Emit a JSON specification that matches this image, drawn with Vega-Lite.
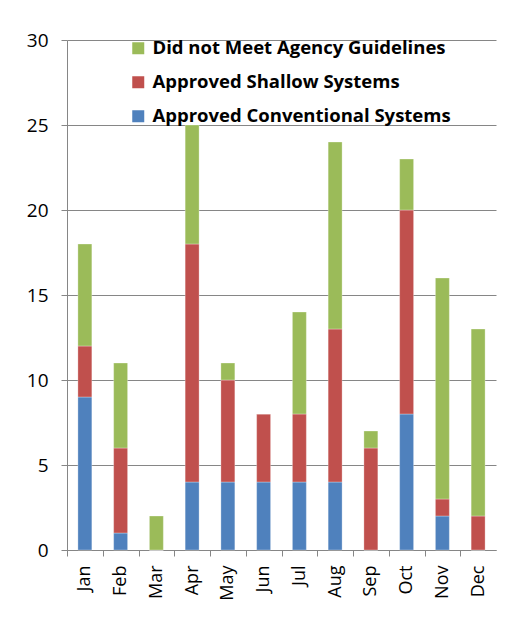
{
  "$schema": "https://vega.github.io/schema/vega-lite/v6.json",
  "width": 429,
  "height": 510,
  "autosize": "none",
  "padding": {"left": 67, "top": 40, "right": 28, "bottom": 91},
  "background": "white",
  "config": {
    "view": {"stroke": null},
    "font": "Open Sans"
  },
  "data": {
    "values": [
      {"month": "Jan", "series": "Approved Conventional Systems", "value": 9},
      {"month": "Jan", "series": "Approved Shallow Systems", "value": 3},
      {"month": "Jan", "series": "Did not Meet Agency Guidelines", "value": 6},
      {"month": "Feb", "series": "Approved Conventional Systems", "value": 1},
      {"month": "Feb", "series": "Approved Shallow Systems", "value": 5},
      {"month": "Feb", "series": "Did not Meet Agency Guidelines", "value": 5},
      {"month": "Mar", "series": "Approved Conventional Systems", "value": 0},
      {"month": "Mar", "series": "Approved Shallow Systems", "value": 0},
      {"month": "Mar", "series": "Did not Meet Agency Guidelines", "value": 2},
      {"month": "Apr", "series": "Approved Conventional Systems", "value": 4},
      {"month": "Apr", "series": "Approved Shallow Systems", "value": 14},
      {"month": "Apr", "series": "Did not Meet Agency Guidelines", "value": 7},
      {"month": "May", "series": "Approved Conventional Systems", "value": 4},
      {"month": "May", "series": "Approved Shallow Systems", "value": 6},
      {"month": "May", "series": "Did not Meet Agency Guidelines", "value": 1},
      {"month": "Jun", "series": "Approved Conventional Systems", "value": 4},
      {"month": "Jun", "series": "Approved Shallow Systems", "value": 4},
      {"month": "Jun", "series": "Did not Meet Agency Guidelines", "value": 0},
      {"month": "Jul", "series": "Approved Conventional Systems", "value": 4},
      {"month": "Jul", "series": "Approved Shallow Systems", "value": 4},
      {"month": "Jul", "series": "Did not Meet Agency Guidelines", "value": 6},
      {"month": "Aug", "series": "Approved Conventional Systems", "value": 4},
      {"month": "Aug", "series": "Approved Shallow Systems", "value": 9},
      {"month": "Aug", "series": "Did not Meet Agency Guidelines", "value": 11},
      {"month": "Sep", "series": "Approved Conventional Systems", "value": 0},
      {"month": "Sep", "series": "Approved Shallow Systems", "value": 6},
      {"month": "Sep", "series": "Did not Meet Agency Guidelines", "value": 1},
      {"month": "Oct", "series": "Approved Conventional Systems", "value": 8},
      {"month": "Oct", "series": "Approved Shallow Systems", "value": 12},
      {"month": "Oct", "series": "Did not Meet Agency Guidelines", "value": 3},
      {"month": "Nov", "series": "Approved Conventional Systems", "value": 2},
      {"month": "Nov", "series": "Approved Shallow Systems", "value": 1},
      {"month": "Nov", "series": "Did not Meet Agency Guidelines", "value": 13},
      {"month": "Dec", "series": "Approved Conventional Systems", "value": 0},
      {"month": "Dec", "series": "Approved Shallow Systems", "value": 2},
      {"month": "Dec", "series": "Did not Meet Agency Guidelines", "value": 11}
    ]
  },
  "mark": {"type": "bar", "stroke": "white", "strokeWidth": 0.5, "strokeOpacity": 0.6},
  "encoding": {
    "x": {
      "field": "month",
      "type": "nominal",
      "sort": ["Jan", "Feb", "Mar", "Apr", "May", "Jun", "Jul", "Aug", "Sep", "Oct", "Nov", "Dec"],
      "scale": {"paddingInner": 0.61, "paddingOuter": 0.305},
      "axis": {
        "title": null,
        "labelAngle": -90,
        "labelAlign": "right",
        "labelBaseline": "middle",
        "labelFontSize": 18,
        "labelColor": "#000000",
        "labelPadding": 9,
        "tickSize": 6,
        "tickColor": "#868686",
        "tickOffset": -17.875,
        "labelOffset": 17.875,
        "domainColor": "#868686",
        "domainWidth": 1
      }
    },
    "y": {
      "field": "value",
      "type": "quantitative",
      "stack": "zero",
      "scale": {"domain": [0, 30], "nice": false},
      "axis": {
        "title": null,
        "values": [0, 5, 10, 15, 20, 25, 30],
        "labelFontSize": 19,
        "labelColor": "#000000",
        "labelPadding": 13,
        "tickSize": 6,
        "tickColor": "#868686",
        "gridColor": "#868686",
        "gridWidth": 1,
        "domainColor": "#868686",
        "domainWidth": 1
      }
    },
    "color": {
      "field": "series",
      "type": "nominal",
      "scale": {
        "domain": ["Did not Meet Agency Guidelines", "Approved Shallow Systems", "Approved Conventional Systems"],
        "range": ["#9BBB59", "#C0504D", "#4F81BD"]
      },
      "legend": {
        "title": null,
        "orient": "none",
        "legendX": 62,
        "legendY": -1,
        "symbolType": "square",
        "symbolSize": 144,
        "symbolStrokeWidth": 0,
        "labelFontSize": 18.5,
        "labelFontWeight": "bold",
        "labelColor": "#000000",
        "labelLimit": 400,
        "labelOffset": 5,
        "rowPadding": 15
      }
    },
    "order": {"field": "series", "sort": "ascending"}
  }
}
